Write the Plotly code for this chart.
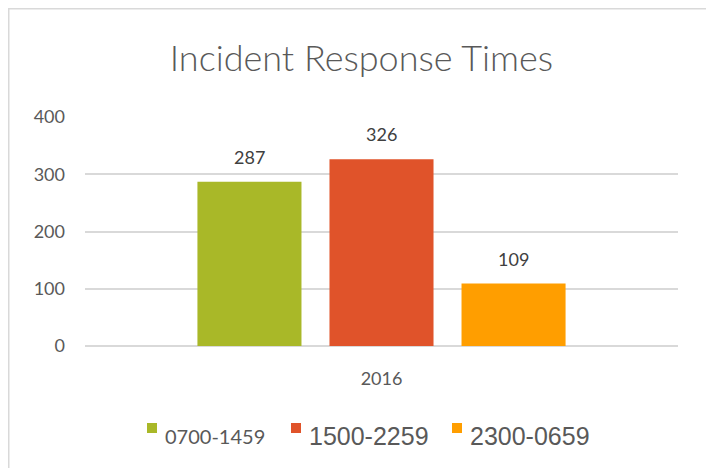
import plotly.graph_objects as go

# Data
years = ["2016"]
shifts = ["0700-1459", "1500-2259", "2300-0659"]
incidents = [287, 326, 109]
colors = ["#A9B828", "#E0532A", "#FF9E00"]
y_ticks = [0, 100, 200, 300, 400]

BARGAP = 0.332
BARGROUPGAP = 0.212

fig = go.Figure()

for shift, val, col in zip(shifts, incidents, colors):
    fig.add_trace(go.Bar(
        x=years,
        y=[val],
        name=shift,
        marker=dict(color=col, line=dict(width=0)),
        showlegend=False,
    ))

# plot area in pixels (used to place the hand-made legend and the frame)
L, T, W, H = 77, 109, 593, 229


def px(x):
    return (x - L) / W


def py(y):
    return (T + H - y) / H


annotations = []

# value labels above bars (category index 0, offset by the group slot)
slot = (1 - BARGAP) / len(shifts)
for i, val in enumerate(incidents):
    annotations.append(dict(
        x=(i - (len(shifts) - 1) / 2) * slot, y=val,
        xref="x", yref="y",
        text=str(val), showarrow=False,
        yanchor="middle", yshift=25,
        font=dict(family="Lato", size=18, color="#404040"),
    ))

# legend: small swatch + label per series (label fonts differ, as in the original)
legend_fonts = [
    dict(family="Lato", size=20, color="#595959"),
    dict(family="Liberation Sans", size=25, color="#595959"),
    dict(family="Liberation Sans", size=25, color="#595959"),
]
swatch_x = [139, 283, 444]
shapes = []
for shift, col, lf, sx in zip(shifts, colors, legend_fonts, swatch_x):
    shapes.append(dict(
        type="rect", xref="paper", yref="paper",
        x0=px(sx), x1=px(sx + 10), y0=py(425), y1=py(415),
        fillcolor=col, line=dict(width=0),
    ))
    annotations.append(dict(
        xref="paper", yref="paper",
        x=px(sx + 16), y=py(428),
        xanchor="left", yanchor="middle",
        text=shift, showarrow=False, font=lf,
    ))

# outer chart frame
shapes.append(dict(
    type="rect", xref="paper", yref="paper",
    x0=px(0.75), x1=px(703.5), y0=py(480), y1=py(0.75),
    line=dict(color="#D9D9D9", width=1.5),
    layer="below",
))

fig.update_layout(
    width=714,
    height=468,
    paper_bgcolor="white",
    plot_bgcolor="white",
    showlegend=False,
    title=dict(
        text="Incident Response Times",
        x=0.495, xanchor="center",
        y=0.893, yanchor="middle",
        font=dict(family="Lato", size=36, color="#595959", weight=300),
    ),
    barmode="group",
    bargap=BARGAP,
    bargroupgap=BARGROUPGAP,
    margin=dict(l=L, r=714 - L - W, t=T, b=468 - T - H),
    xaxis=dict(
        range=[-0.5, 0.5],
        showgrid=False,
        showline=False,
        tickfont=dict(family="Lato", size=18, color="#595959"),
        ticklabelstandoff=20,
    ),
    yaxis=dict(
        range=[0, 400],
        tickvals=y_ticks,
        showgrid=True,
        gridcolor="#D9D9D9",
        gridwidth=1.5,
        zeroline=True,
        zerolinecolor="#D9D9D9",
        zerolinewidth=1.5,
        tickfont=dict(family="Lato", size=18, color="#595959"),
        ticklabelstandoff=19,
    ),
    shapes=shapes,
    annotations=annotations,
)

fig.write_html("out.html")
